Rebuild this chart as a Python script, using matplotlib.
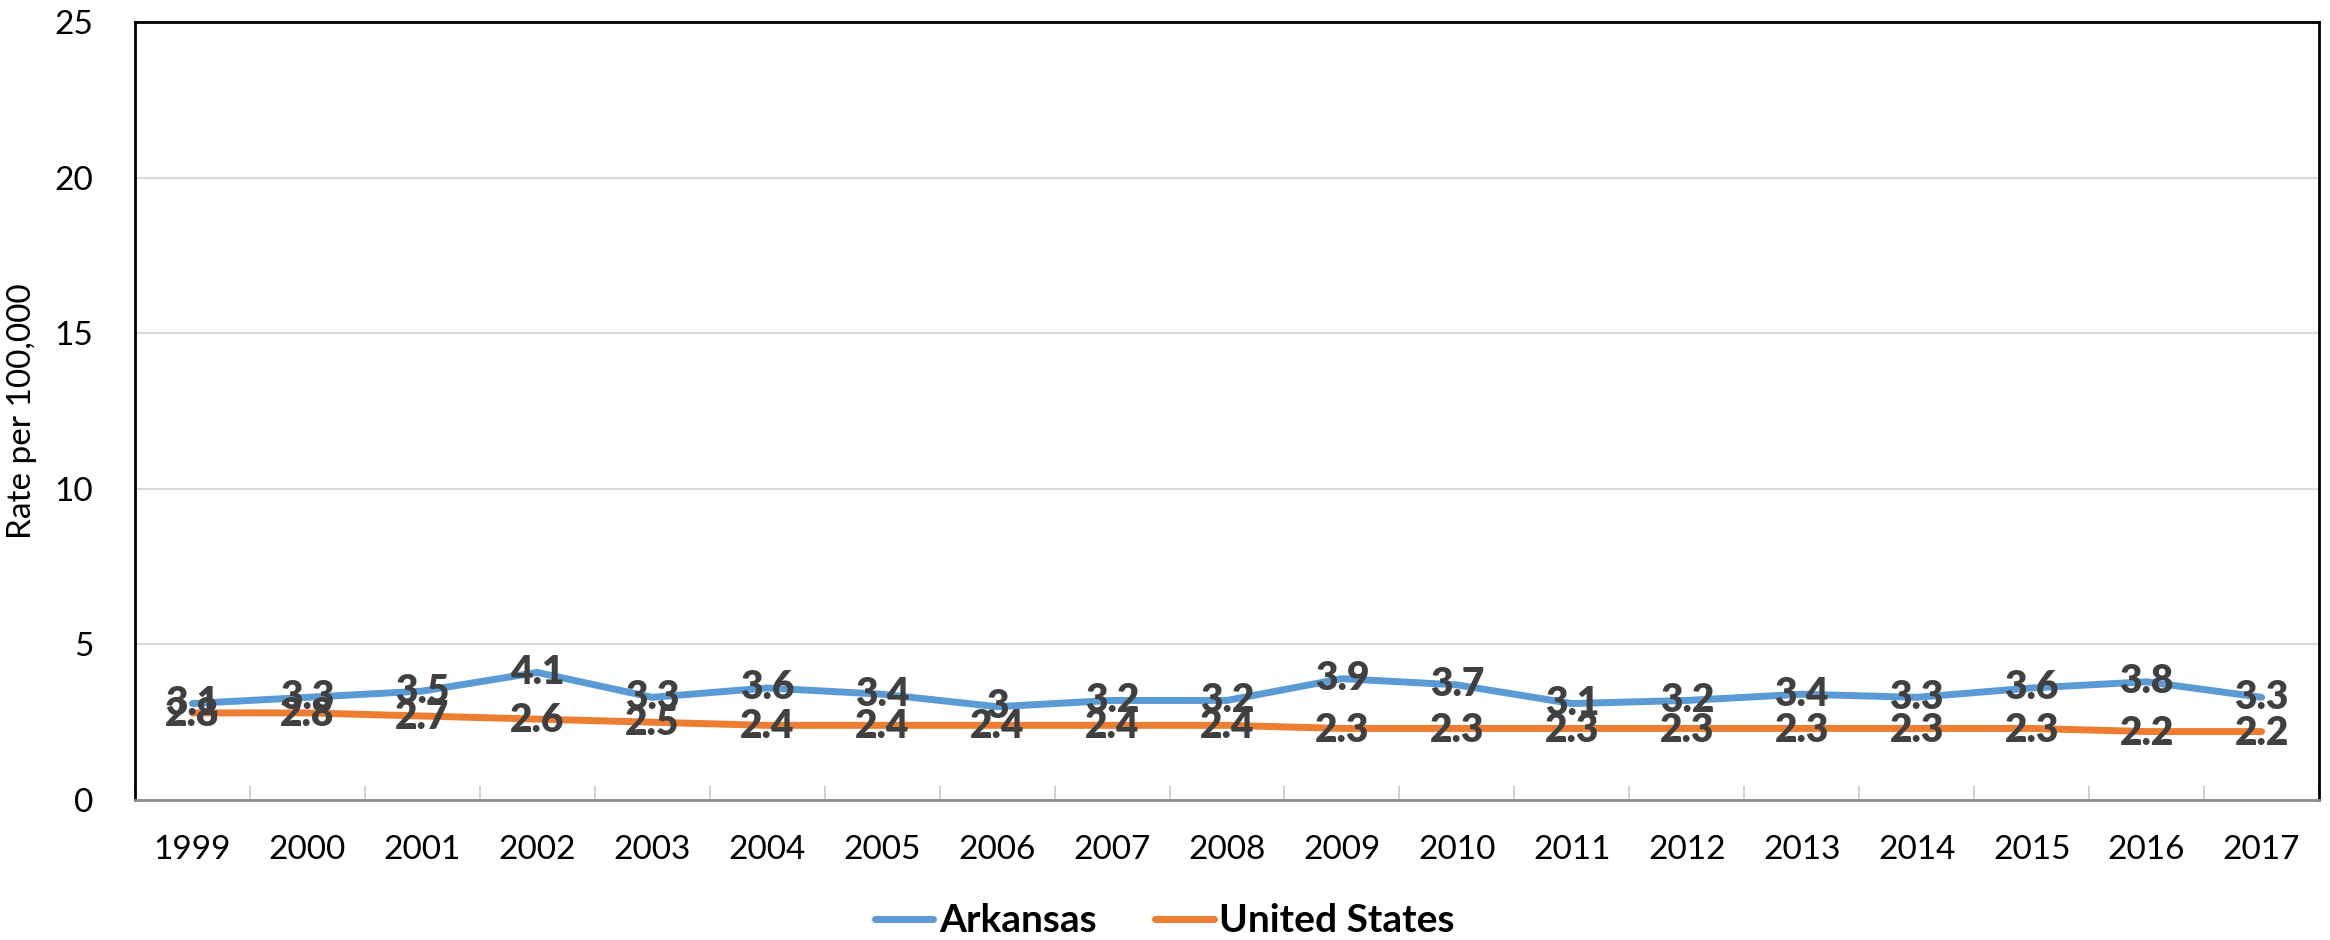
import matplotlib.pyplot as plt

# Tasas por cada 100,000 habitantes, 1999-2017
anios = ["1999", "2000", "2001", "2002", "2003", "2004", "2005", "2006", "2007", "2008",
         "2009", "2010", "2011", "2012", "2013", "2014", "2015", "2016", "2017"]
arkansas = [3.1, 3.3, 3.5, 4.1, 3.3, 3.6, 3.4, 3, 3.2, 3.2,
            3.9, 3.7, 3.1, 3.2, 3.4, 3.3, 3.6, 3.8, 3.3]
estados_unidos = [2.8, 2.8, 2.7, 2.6, 2.5, 2.4, 2.4, 2.4, 2.4, 2.4,
                  2.3, 2.3, 2.3, 2.3, 2.3, 2.3, 2.3, 2.2, 2.2]
ticks_y = [0, 5, 10, 15, 20, 25]

plt.rcParams['font.family'] = ['Lato', 'DejaVu Sans']

azul = '#5B9BD5'
naranja = '#ED7D31'
gris_texto = '#404040'

fig = plt.figure(figsize=(23.3, 9.4), dpi=100)
ax = fig.add_axes([0.0579, 0.1489, 0.9374, 0.8277])

x = list(range(len(anios)))
ax.plot(x, arkansas, color=azul, lw=5, solid_capstyle='round', label='Arkansas', zorder=3)
ax.plot(x, estados_unidos, color=naranja, lw=5, solid_capstyle='round', label='United States', zorder=3)

# Etiquetas de datos centradas sobre cada punto
for i, v in enumerate(arkansas):
    ax.text(i, v, f"{v:g}", ha='center', va='center', fontsize=28,
            fontweight='heavy', color=gris_texto, zorder=4)
for i, v in enumerate(estados_unidos):
    ax.text(i, v - 0.05, f"{v:g}", ha='center', va='center', fontsize=28,
            fontweight='heavy', color=gris_texto, zorder=5)

ax.set_xlim(-0.5, len(anios) - 0.5)
ax.set_ylim(0, 25)
ax.set_yticks(ticks_y)
ax.tick_params(axis='y', length=0, pad=30, labelsize=24)

# Eje x: nombres de año sin marca, marcas entre categorías
ax.set_xticks(x)
ax.set_xticklabels(anios)
ax.tick_params(axis='x', which='major', length=0, pad=25, labelsize=24)
ax.set_xticks([i - 0.5 for i in range(len(anios) + 1)], minor=True)
ax.tick_params(axis='x', which='minor', direction='in', length=10, width=1.2, color='#c8c8c8')

ax.grid(axis='y', color='#d9d9d9', lw=1.5, zorder=0)
ax.set_axisbelow(True)

for lado in ['top', 'left', 'right']:
    ax.spines[lado].set_color('black')
    ax.spines[lado].set_linewidth(2)
ax.spines['bottom'].set_color('#8c8c8c')
ax.spines['bottom'].set_linewidth(2)

ax.set_ylabel("Rate per 100,000", fontsize=24)
ax.yaxis.set_label_coords(-0.0449, 0.5)

leg = fig.legend(loc='center', bbox_to_anchor=(0.5, 1 - 921 / 940), ncol=2, frameon=False,
                 prop={'size': 28, 'weight': 'bold'}, handlelength=1.5,
                 handletextpad=0.15, columnspacing=1.5)

plt.savefig("out.png", dpi=100)
